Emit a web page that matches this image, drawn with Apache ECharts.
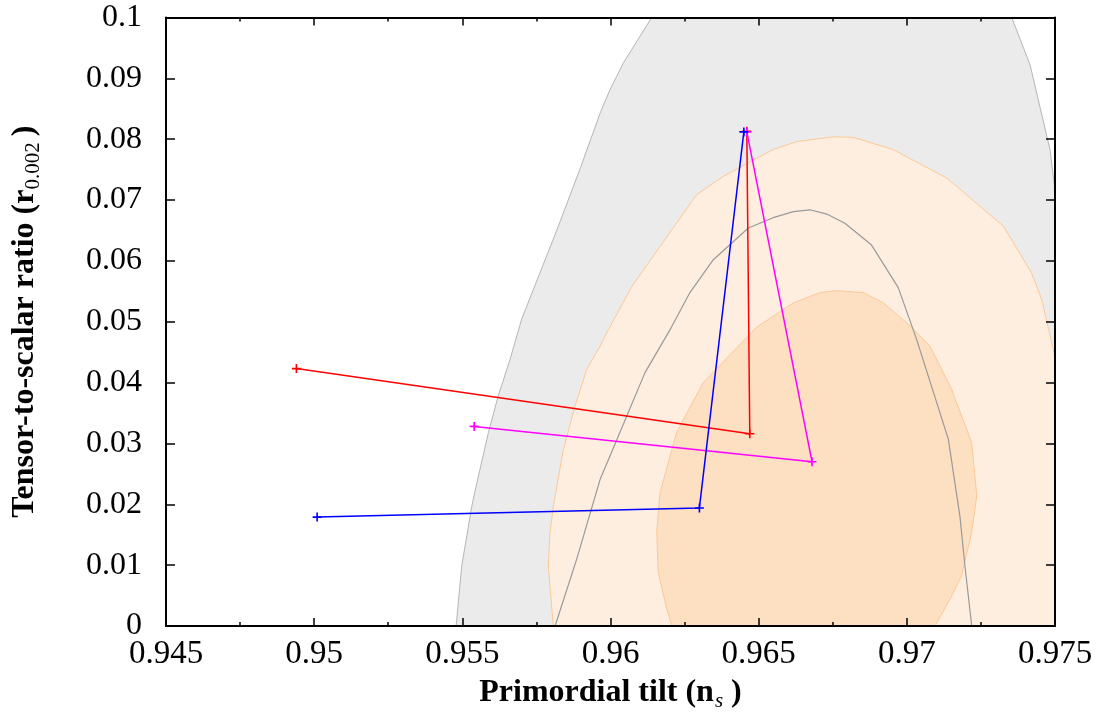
<!DOCTYPE html>
<html>
<head>
<meta charset="utf-8">
<script src="https://cdn.jsdelivr.net/npm/echarts@6/dist/echarts.min.js"></script>
<style>
html,body{margin:0;padding:0;background:#fff;}
#chart{width:1103px;height:717px;}
</style>
</head>
<body>
<div id="chart"></div>
<script>
// ---- tick labels ----
var xTickLabels = ['0.945','0.95','0.955','0.96','0.965','0.97','0.975'];
var yTickLabels = ['0','0.01','0.02','0.03','0.04','0.05','0.06','0.07','0.08','0.09','0.1'];

// ---- contour regions [n_s, r] ----
var grayOuter = [[0.95479,0],[0.95498,0.0099],[0.95532,0.0197],[0.95543,0.0222],[0.95588,0.0318],[0.95621,0.0378],[0.95661,0.0438],[0.95700,0.0504],[0.95824,0.0657],[0.95900,0.0755],[0.95965,0.0843],[0.95998,0.0881],[0.96043,0.0925],[0.96139,0.1],[0.97354,0.1],[0.97416,0.0922],[0.97483,0.0783],[0.975,0.0717],[0.975,0]];
var orangeOuter = [[0.95807,0],[0.9579,0.0099],[0.95796,0.0154],[0.95807,0.0197],[0.95841,0.029],[0.9588,0.0361],[0.9592,0.0422],[0.95965,0.046],[0.95993,0.0487],[0.96072,0.0558],[0.96291,0.0709],[0.96381,0.0739],[0.96549,0.0783],[0.96628,0.0796],[0.96752,0.0804],[0.96819,0.0803],[0.96954,0.0783],[0.97135,0.0736],[0.97326,0.0657],[0.97421,0.058],[0.97455,0.0537],[0.97494,0.0455],[0.975,0.0441],[0.975,0]];
var orangeInner = [[0.96207,0],[0.9619,0.0028],[0.96161,0.0088],[0.96156,0.0154],[0.96167,0.0219],[0.96223,0.0318],[0.96313,0.04],[0.96493,0.0491],[0.96617,0.0531],[0.96707,0.0548],[0.96763,0.0551],[0.96853,0.0548],[0.96921,0.0531],[0.97014,0.0492],[0.97078,0.046],[0.97151,0.0389],[0.97219,0.0301],[0.97236,0.0214],[0.97219,0.0154],[0.97185,0.0083],[0.97146,0.0044],[0.97095,0]];
var grayInner = [[0.95813,0],[0.95886,0.011],[0.95965,0.0241],[0.95998,0.0279],[0.96116,0.0416],[0.96201,0.0487],[0.96268,0.0548],[0.96347,0.0602],[0.96465,0.0654],[0.96549,0.0671],[0.96617,0.0681],[0.96673,0.0684],[0.9673,0.0677],[0.96791,0.0662],[0.96881,0.0626],[0.96971,0.0556],[0.97033,0.0471],[0.9714,0.0307],[0.97179,0.0181],[0.97196,0.0099],[0.97219,0]];

// ---- model tracks [n_s, r] ----
var redTrack = [[0.9494,0.0423],[0.9647,0.0316],[0.9646,0.0813]];
var magentaTrack = [[0.9554,0.0328],[0.9668,0.0270],[0.9646,0.0812]];
var blueTrack = [[0.9501,0.0179],[0.9630,0.0194],[0.9645,0.0812]];

var FONT = 'Liberation Serif';
var plusSymbol = 'path://M0,4.1H10V5.9H0Z M4.1,0H5.9V10H4.1Z';

function regionSeries(points, fill, stroke, z) {
  return {
    type: 'custom', coordinateSystem: 'cartesian2d', clip: true, z: z, silent: true,
    data: [points[0]],
    renderItem: function (params, api) {
      return {
        type: 'polygon',
        shape: { points: points.map(function (p) { return api.coord(p); }) },
        style: { fill: fill, stroke: stroke, lineWidth: 1 }
      };
    }
  };
}
function trackSeries(points, color, z) {
  return {
    type: 'line', data: points, z: z, silent: true,
    symbol: plusSymbol, symbolSize: 9, showSymbol: true,
    itemStyle: { color: color },
    lineStyle: { color: color, width: 1.5 },
    emphasis: { disabled: true }
  };
}

var axisLineStyle = { color: '#000', width: 2 };
var tickStyle = { color: '#000', width: 1.5 };

var option = {
  backgroundColor: '#fff',
  animation: false,
  grid: { left: 166, right: 48, top: 17.5, bottom: 90, containLabel: false },
  xAxis: [{
    type: 'value', min: 0.945, max: 0.975, interval: 0.005, position: 'bottom', z: 10,
    axisLine: { show: true, onZero: false, lineStyle: axisLineStyle },
    axisTick: { show: true, inside: true, length: 8, lineStyle: tickStyle },
    minorTick: { show: true, splitNumber: 2, length: 4, lineStyle: tickStyle },
    splitLine: { show: false },
    axisLabel: {
      show: true, margin: 12, color: '#000', fontFamily: FONT, fontSize: 33,
      showMinLabel: true, showMaxLabel: true,
      formatter: function (v) { return xTickLabels[Math.round((v - 0.945) / 0.005)]; }
    },
    name: '{a|Primordial tilt (n}{s|s}{a|)}',
    nameLocation: 'middle', nameGap: 47,
    nameTextStyle: {
      rich: {
        a: { fontFamily: FONT, fontSize: 32, fontWeight: 'bold', color: '#000' },
        s: { fontFamily: FONT, fontSize: 21, fontStyle: 'italic', color: '#000', padding: [18, 8, 0, 1] }
      }
    }
  }, {
    type: 'value', min: 0.945, max: 0.975, interval: 0.005, position: 'top', z: 10,
    axisLine: { show: true, onZero: false, lineStyle: axisLineStyle },
    axisTick: { show: true, inside: true, length: 8, lineStyle: tickStyle },
    minorTick: { show: true, splitNumber: 2, length: 4, lineStyle: tickStyle },
    splitLine: { show: false },
    axisLabel: { show: false }
  }],
  yAxis: [{
    type: 'value', min: 0, max: 0.1, interval: 0.01, position: 'left', z: 10,
    axisLine: { show: true, onZero: false, lineStyle: axisLineStyle },
    axisTick: { show: true, inside: true, length: 9, lineStyle: tickStyle },
    splitLine: { show: false },
    axisLabel: {
      show: true, margin: 24, color: '#000', fontFamily: FONT, fontSize: 32,
      showMinLabel: true, showMaxLabel: true,
      formatter: function (v) { return yTickLabels[Math.round(v / 0.01)]; }
    },
    name: '{a|Tensor-to-scalar ratio (r}{s|0.002}{a|)}',
    nameLocation: 'middle', nameGap: 122, nameRotate: 90,
    nameTextStyle: {
      rich: {
        a: { fontFamily: FONT, fontSize: 32, fontWeight: 'bold', color: '#000' },
        s: { fontFamily: FONT, fontSize: 21, color: '#000', padding: [18, 6, 0, 0] }
      }
    }
  }, {
    type: 'value', min: 0, max: 0.1, interval: 0.01, position: 'right', z: 10,
    axisLine: { show: true, onZero: false, lineStyle: axisLineStyle },
    axisTick: { show: true, inside: true, length: 9, lineStyle: tickStyle },
    splitLine: { show: false },
    axisLabel: { show: false }
  }],
  series: [
    regionSeries(grayOuter, '#ebebeb', '#b5b5b5', 1),
    regionSeries(orangeOuter, '#feeee0', '#fcc896', 2),
    regionSeries(orangeInner, '#fddfc2', '#fbc898', 3),
    {
      type: 'line', data: grayInner, z: 4, silent: true, showSymbol: false,
      lineStyle: { color: '#999999', width: 1.2 }, emphasis: { disabled: true }
    },
    trackSeries(redTrack, '#ff0000', 5),
    trackSeries(magentaTrack, '#ff00ff', 6),
    trackSeries(blueTrack, '#0000ff', 7)
  ]
};

var chart = echarts.init(document.getElementById('chart'), null, { renderer: 'canvas' });
chart.setOption(option);
</script>
</body>
</html>
